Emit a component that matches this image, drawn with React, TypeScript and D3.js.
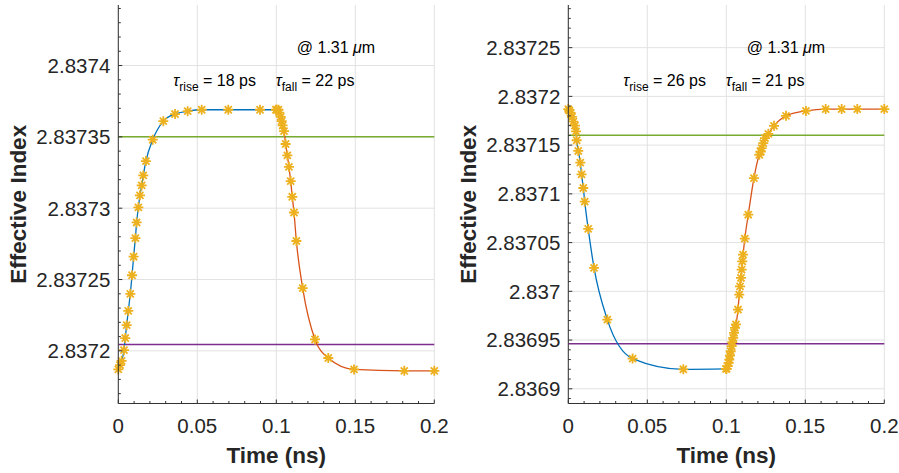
import React from "react";
import * as d3 from "d3";

// ---------- Data ----------
// Left panel: rise (blue) then fall (orange)
const leftRiseT = [0, 0.0011, 0.0021, 0.0036, 0.0044, 0.0053, 0.0063, 0.0076, 0.0087, 0.0097, 0.0108, 0.0116, 0.0127, 0.0137, 0.0148, 0.0158, 0.0175, 0.0218, 0.0285, 0.0359, 0.0439, 0.0528, 0.0696, 0.0897, 0.0998];
const leftRiseN = [2.837187, 2.83719, 2.837193, 2.8372005, 2.837209, 2.837218, 2.837228, 2.83724, 2.837253, 2.837266, 2.837279, 2.83729, 2.8373006, 2.837309, 2.837316, 2.837323, 2.837333, 2.837348, 2.837361, 2.837366, 2.837368, 2.837369, 2.837369, 2.837369, 2.837369];
const leftFallT = [0.1002, 0.1013, 0.1019, 0.1028, 0.1034, 0.104, 0.1049, 0.1059, 0.107, 0.108, 0.1091, 0.1101, 0.1112, 0.1127, 0.1167, 0.1245, 0.1329, 0.1492, 0.181, 0.2];
const leftFallN = [2.837369, 2.837369, 2.837367, 2.837364, 2.837361, 2.837358, 2.837354, 2.837345, 2.837337, 2.837329, 2.837319, 2.837308, 2.837297, 2.837277, 2.837244, 2.837208, 2.837195, 2.837187, 2.837186, 2.837186];

// Right panel: fall (blue) then rise (orange)
const rightFallT = [0, 0.0006, 0.0015, 0.0023, 0.0032, 0.0042, 0.0049, 0.0053, 0.0063, 0.0076, 0.0084, 0.0095, 0.0104, 0.0126, 0.0163, 0.0247, 0.0407, 0.0728, 0.0998];
const rightFallN = [2.837187, 2.8371855, 2.837183, 2.837179, 2.837174, 2.83717, 2.837164, 2.837155, 2.837144, 2.837132, 2.83712, 2.837106, 2.837092, 2.837064, 2.837024, 2.836971, 2.836931, 2.83692, 2.8369205];
const rightRiseT = [0.1002, 0.1009, 0.1015, 0.1019, 0.1023, 0.1028, 0.1034, 0.1038, 0.1044, 0.1049, 0.1055, 0.1061, 0.1074, 0.1082, 0.1087, 0.1093, 0.1097, 0.1101, 0.1106, 0.1117, 0.1139, 0.1175, 0.1209, 0.1218, 0.1224, 0.1234, 0.1245, 0.1266, 0.1302, 0.1378, 0.1504, 0.1629, 0.173, 0.1829, 0.2];
const rightRiseN = [2.8369205, 2.8369232, 2.8369266, 2.83693, 2.836934, 2.8369385, 2.8369437, 2.8369478, 2.8369522, 2.8369574, 2.8369625, 2.836966, 2.8369813, 2.8369966, 2.8370051, 2.8370137, 2.8370222, 2.8370307, 2.8370376, 2.837054, 2.8370786, 2.8371162, 2.8371401, 2.8371434, 2.8371469, 2.837152, 2.8371572, 2.8371616, 2.8371698, 2.83718, 2.8371851, 2.837187, 2.837187, 2.837187, 2.837187];

// 90% / 10% threshold levels
const leftLevels = [2.83735, 2.8372045];
const rightLevels = [2.8371600, 2.8369463];

// Axis limits & ticks
const xTicks = [0, 0.05, 0.1, 0.15, 0.2];
const xTickLabels = ["0", "0.05", "0.1", "0.15", "0.2"];
const leftYLim = [2.83716311, 2.83744243];
const rightYLim = [2.8368849, 2.83729375];
const leftYTicks = [2.8372, 2.83725, 2.8373, 2.83735, 2.8374];
const leftYTickLabels = ["2.8372", "2.83725", "2.8373", "2.83735", "2.8374"];
const rightYTicks = [2.8369, 2.83695, 2.837, 2.83705, 2.8371, 2.83715, 2.8372, 2.83725];
const rightYTickLabels = ["2.8369", "2.83695", "2.837", "2.83705", "2.8371", "2.83715", "2.8372", "2.83725"];

const leftTau = ["18", "22"];
const rightTau = ["26", "21"];

// ---------- Styles ----------
const FONT = "'Liberation Sans', Arial, Helvetica, sans-serif";
const BLUE = "#0072BD";
const ORANGE = "#D95319";
const YELLOW = "#EDB120";
const GREEN = "#77AC30";
const PURPLE = "#7E2F8E";
const AXIS = "#333333";
const TEXT = "#262626";
const GRID = "#e2e2e2";

type PanelProps = {
  left: number;
  yLim: number[];
  yTicks: number[];
  yTickLabels: string[];
  t1: number[]; n1: number[];
  t2: number[]; n2: number[];
  levels: number[];
  tau: string[];
};

const TOP = 5;
const BOTTOM = 403.5;
const WIDTH = 316;

function Panel(p: PanelProps) {
  const x = d3.scaleLinear().domain([0, 0.2]).range([p.left, p.left + WIDTH]);
  const y = d3.scaleLinear().domain(p.yLim).range([BOTTOM, TOP]);
  const line = d3.line<[number, number]>().x(d => x(d[0])).y(d => y(d[1])).curve(d3.curveMonotoneX);
  const s1 = p.t1.map((t, i) => [t, p.n1[i]] as [number, number]);
  const s2 = p.t2.map((t, i) => [t, p.n2[i]] as [number, number]);

  const xMinor = d3.range(0, 21).map(k => k / 100).filter((_, k) => k % 5 !== 0);
  const kLo = Math.ceil(p.yLim[0] * 1e5 - 1e-6);
  const kHi = Math.floor(p.yLim[1] * 1e5 + 1e-6);
  const yMinor = d3.range(kLo, kHi + 1).filter(k => k % 5 !== 0).map(k => k / 1e5);

  const r = 5;
  const a = r * Math.SQRT1_2;
  const star = `M${-r},0L${r},0M0,${-r}L0,${r}M${-a},${-a}L${a},${a}M${-a},${a}L${a},${-a}`;

  const x0 = p.left;
  return (
    <g>
      {/* grid */}
      {xTicks.map((t, i) => (
        <line key={"gx" + i} x1={x(t)} x2={x(t)} y1={TOP} y2={BOTTOM} stroke={GRID} strokeWidth={1} />
      ))}
      {p.yTicks.map((v, i) => (
        <line key={"gy" + i} x1={x(0)} x2={x(0.2)} y1={y(v)} y2={y(v)} stroke={GRID} strokeWidth={1} />
      ))}
      {/* threshold lines */}
      <line x1={x(0)} x2={x(0.2)} y1={y(p.levels[0])} y2={y(p.levels[0])} stroke={GREEN} strokeWidth={1.5} />
      <line x1={x(0)} x2={x(0.2)} y1={y(p.levels[1])} y2={y(p.levels[1])} stroke={PURPLE} strokeWidth={1.5} />
      {/* curves */}
      <path d={line(s1) || ""} fill="none" stroke={BLUE} strokeWidth={1.3} />
      <path d={line(s2) || ""} fill="none" stroke={ORANGE} strokeWidth={1.3} />
      {/* markers */}
      {[...s1, ...s2].map((d, i) => (
        <path key={"m" + i} d={star} transform={`translate(${x(d[0])},${y(d[1])})`} fill="none" stroke={YELLOW} strokeWidth={1.8} />
      ))}
      {/* axes */}
      <line x1={x0} x2={x0} y1={TOP} y2={BOTTOM} stroke={AXIS} strokeWidth={1} />
      <line x1={x0} x2={x0 + WIDTH} y1={BOTTOM} y2={BOTTOM} stroke={AXIS} strokeWidth={1} />
      {xTicks.map((t, i) => (
        <line key={"xt" + i} x1={x(t)} x2={x(t)} y1={BOTTOM} y2={BOTTOM - 4} stroke={AXIS} strokeWidth={1} />
      ))}
      {xMinor.map((t, i) => (
        <line key={"xm" + i} x1={x(t)} x2={x(t)} y1={BOTTOM} y2={BOTTOM - 2.5} stroke={AXIS} strokeWidth={1} />
      ))}
      {p.yTicks.map((v, i) => (
        <line key={"yt" + i} x1={x0} x2={x0 + 4} y1={y(v)} y2={y(v)} stroke={AXIS} strokeWidth={1} />
      ))}
      {yMinor.map((v, i) => (
        <line key={"ym" + i} x1={x0} x2={x0 + 2.5} y1={y(v)} y2={y(v)} stroke={AXIS} strokeWidth={1} />
      ))}
      {/* tick labels */}
      {xTicks.map((t, i) => (
        <text key={"xl" + i} x={x(t)} y={433} textAnchor="middle" fontSize={20.5} fill={TEXT} fontFamily={FONT}>{xTickLabels[i]}</text>
      ))}
      {p.yTicks.map((v, i) => (
        <text key={"yl" + i} x={x0 - 8} y={y(v)} dy="0.36em" textAnchor="end" fontSize={20.5} fill={TEXT} fontFamily={FONT}>{p.yTickLabels[i]}</text>
      ))}
      {/* axis labels */}
      <text x={x0 + WIDTH / 2} y={463} textAnchor="middle" fontSize={22.5} fontWeight="bold" fill={TEXT} fontFamily={FONT}>Time (ns)</text>
      <text transform={`translate(${x0 - 92},${(TOP + BOTTOM) / 2}) rotate(-90)`} textAnchor="middle" fontSize={22.5} fontWeight="bold" fill={TEXT} fontFamily={FONT}>Effective Index</text>
      {/* annotations */}
      <text x={x0 + 178.5} y={53} fontSize={16} fill="#000" fontFamily={FONT}>@ 1.31 <tspan fontStyle="italic">μ</tspan>m</text>
      <text x={x0 + 55} y={86} fontSize={16} fill="#000" fontFamily={FONT}>
        <tspan fontStyle="italic">τ</tspan>
        <tspan fontSize={12} dy={5}>rise</tspan>
        <tspan dy={-5}>{` = ${p.tau[0]} ps`}</tspan>
      </text>
      <text x={x0 + 157.5} y={86} fontSize={16} fill="#000" fontFamily={FONT}>
        <tspan fontStyle="italic">τ</tspan>
        <tspan fontSize={12} dy={5}>fall</tspan>
        <tspan dy={-5}>{` = ${p.tau[1]} ps`}</tspan>
      </text>
    </g>
  );
}

export default function App() {
  return (
    <svg width={899} height={473} style={{ display: "block", position: "absolute", left: 0, top: 0, background: "#fff" }}>
      <rect x={0} y={0} width={899} height={473} fill="#fff" />
      <Panel left={118.3} yLim={leftYLim} yTicks={leftYTicks} yTickLabels={leftYTickLabels}
        t1={leftRiseT} n1={leftRiseN} t2={leftFallT} n2={leftFallN} levels={leftLevels} tau={leftTau} />
      <Panel left={568.3} yLim={rightYLim} yTicks={rightYTicks} yTickLabels={rightYTickLabels}
        t1={rightFallT} n1={rightFallN} t2={rightRiseT} n2={rightRiseN} levels={rightLevels} tau={rightTau} />
    </svg>
  );
}
